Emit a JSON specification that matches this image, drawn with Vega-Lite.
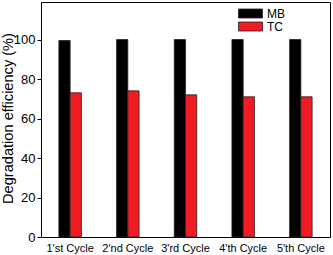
{
  "$schema": "https://vega.github.io/schema/vega-lite/v6.json",
  "width": 289,
  "height": 235,
  "autosize": "none",
  "padding": {"left": 41, "top": 2, "right": 3, "bottom": 18},
  "config": {
    "font": "Liberation Sans",
    "view": {"stroke": "#000", "strokeWidth": 1}
  },
  "data": {
    "values": [
      {"cycle": "1'st Cycle", "series": "MB", "value": 99.5},
      {"cycle": "1'st Cycle", "series": "TC", "value": 73},
      {"cycle": "2'nd Cycle", "series": "MB", "value": 100},
      {"cycle": "2'nd Cycle", "series": "TC", "value": 74},
      {"cycle": "3'rd Cycle", "series": "MB", "value": 100},
      {"cycle": "3'rd Cycle", "series": "TC", "value": 72},
      {"cycle": "4'th Cycle", "series": "MB", "value": 100},
      {"cycle": "4'th Cycle", "series": "TC", "value": 71},
      {"cycle": "5'th Cycle", "series": "MB", "value": 100},
      {"cycle": "5'th Cycle", "series": "TC", "value": 71}
    ]
  },
  "mark": {"type": "bar", "stroke": "#222", "strokeWidth": 0.8},
  "encoding": {
    "x": {
      "field": "cycle",
      "type": "nominal",
      "sort": null,
      "scale": {"paddingInner": 0.61, "paddingOuter": 0.31},
      "axis": {
        "title": null,
        "labelAngle": 0,
        "labelFontSize": 11,
        "labelColor": "#000",
        "ticks": false,
        "labelPadding": 5,
        "domainColor": "#000"
      }
    },
    "xOffset": {"field": "series", "type": "nominal", "scale": {"paddingInner": 0}},
    "y": {
      "field": "value",
      "type": "quantitative",
      "scale": {"domain": [0, 119], "nice": false},
      "axis": {
        "title": "Degradation efficiency (%)",
        "titleFontSize": 14.6,
        "titleFontWeight": "normal",
        "titleColor": "#000",
        "titleX": -33,
        "titleY": 116,
        "titleAngle": -90,
        "titleAlign": "center",
        "titleBaseline": "middle",
        "values": [0, 20, 40, 60, 80, 100],
        "labelFontSize": 13,
        "labelColor": "#000",
        "tickColor": "#000",
        "tickSize": 4,
        "domainColor": "#000",
        "grid": false
      }
    },
    "color": {
      "field": "series",
      "type": "nominal",
      "scale": {"domain": ["MB", "TC"], "range": ["#000000", "#f01c24"]},
      "legend": {
        "title": null,
        "orient": "none",
        "legendX": 203,
        "legendY": 5,
        "symbolType": "M-2,-0.75H2V0.75H-2Z",
        "symbolSize": 144,
        "symbolStrokeColor": "#222",
        "symbolStrokeWidth": 0.8,
        "labelFontSize": 12,
        "labelColor": "#000",
        "labelOffset": 10,
        "rowPadding": 0
      }
    }
  }
}
